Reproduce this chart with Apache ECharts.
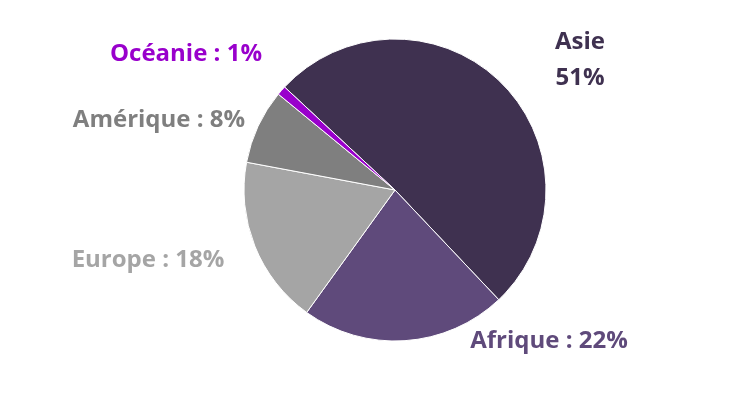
<!DOCTYPE html>
<html>
<head>
<meta charset="utf-8">
<script src="https://cdn.jsdelivr.net/npm/echarts@6/dist/echarts.min.js"></script>
<style>html,body{margin:0;padding:0;background:#fff}#main{width:744px;height:406px}</style>
</head>
<body>
<div id="main"></div>
<script>
var names = ['Asie', 'Afrique', 'Europe', 'Amérique', 'Océanie'];
var values = [51, 22, 18, 8, 1];
var colors = ['#3f3150', '#5f4a7b', '#a5a5a5', '#7f7f7f', '#9900cc'];
// label anchor points (centre of text)
var labelPos = [[580, 60], [549, 341], [148, 260], [159, 120], [186, 54]];

var chart = echarts.init(document.getElementById('main'));
chart.setOption({
    animation: false,
    series: [{
        type: 'pie',
        center: [395, 190],
        radius: [0, 151],
        startAngle: 137,
        clockwise: true,
        itemStyle: { borderColor: '#fff', borderWidth: 1 },
        label: {
            show: true,
            position: 'outside',
            fontFamily: 'Open Sans',
            fontWeight: 'bold',
            fontSize: 24,
            lineHeight: 36,
            align: 'center',
            verticalAlign: 'middle',
            formatter: function (p) {
                return p.dataIndex === 0 ? p.name + '\n' + p.value + '%' : p.name + ' : ' + p.value + '%';
            }
        },
        labelLine: { show: false },
        labelLayout: function (p) {
            var pos = labelPos[p.dataIndex];
            return { x: pos[0], y: pos[1], align: 'center', verticalAlign: 'middle' };
        },
        data: names.map(function (n, i) {
            return { name: n, value: values[i], itemStyle: { color: colors[i] }, label: { color: colors[i] } };
        })
    }]
});
</script>
</body>
</html>
